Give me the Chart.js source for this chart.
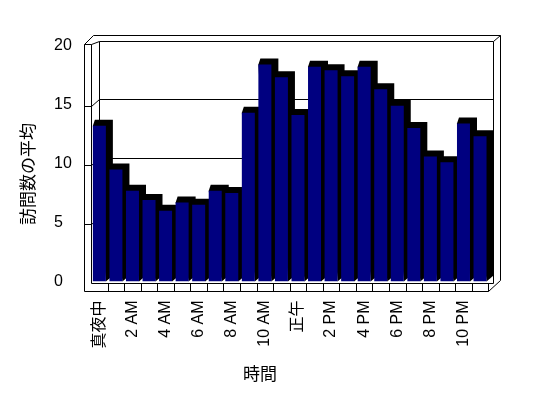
<!DOCTYPE html>
<html>
<head>
<meta charset="utf-8">
<script src="https://cdn.jsdelivr.net/npm/chart.js@4/dist/chart.umd.min.js"></script>
<style>
  body { margin: 0; background: #fff; }
</style>
</head>
<body>
<canvas id="grafica" width="548" height="398"></canvas>
<script>
const hourLabels = [
  "真夜中", "1 AM", "2 AM", "3 AM", "4 AM", "5 AM", "6 AM", "7 AM", "8 AM", "9 AM", "10 AM", "11 AM",
  "正午", "1 PM", "2 PM", "3 PM", "4 PM", "5 PM", "6 PM", "7 PM", "8 PM", "9 PM", "10 PM", "11 PM"
];
const visitAverages = [
  13.2, 9.5, 7.7, 6.9, 6.0, 6.7, 6.5, 7.7, 7.5, 14.3, 18.4, 17.3,
  14.1, 18.2, 17.9, 17.4, 18.2, 16.3, 14.9, 13.0, 10.6, 10.1, 13.4, 12.3
];
const yMin = 0;
const yMax = 20;
const yStep = 5;
const yTitle = "訪問数の平均";
const xTitle = "時間";

const FONT = "'Liberation Sans', 'Noto Sans CJK JP', sans-serif";

// walls, floor, gridlines and the dark tops/sides of the columns
const marco3d = {
  id: "marco3d",
  beforeDatasetsDraw(chart) {
    const { ctx, chartArea: a, scales: { x, y } } = chart;
    const L = a.left, R = a.right, B = a.bottom;
    const top = y.getPixelForValue(yMax);
    const wl = L - 7;
    const fb = B + 9.5;
    const ft = B + 1;
    const bx0 = L + 7.5;
    const bx1 = R + 5;
    const ox = R + 12;
    const p = v => Math.round(v) + 0.5;

    ctx.save();
    ctx.strokeStyle = "#000";
    ctx.lineWidth = 1;
    const line = pts => {
      ctx.beginPath();
      pts.forEach(([px, py], i) => i ? ctx.lineTo(p(px), p(py)) : ctx.moveTo(p(px), p(py)));
      ctx.stroke();
    };

    for (let v = yMin + yStep; v < yMax; v += yStep) {
      const yf = y.getPixelForValue(v) + 1;
      const yb = y.getPixelForValue(v) - 5.5;
      line([[bx0, yb], [bx1, yb]]);
      line([[wl, yf], [L, yf], [bx0, yb]]);
    }

    line([[wl, top - 2], [wl, fb], [R, fb]]);
    line([[wl, top - 2], [L, top - 2], [L, ft], [bx1, ft]]);
    line([[wl, top - 2], [wl + 9, top - 11], [ox, top - 11], [ox, B - 2], [R, fb]]);
    line([[L, top - 2], [bx0, top - 5], [bx1, top - 5], [ox, top - 11]]);
    line([[bx1, top - 5], [bx1, ft]]);
    line([[bx0, top - 5], [bx0, y.getPixelForValue(0) - 5.5]]);

    const cw = (R - L) / hourLabels.length;
    hourLabels.forEach((_, i) => {
      const cx = x.getPixelForValue(i) + cw / 2;
      line([[cx, ft], [cx, fb]]);
    });

    ctx.fillStyle = "#000";
    chart.getDatasetMeta(0).data.forEach(bar => {
      const { x: cx, y: yt, base, width } = bar.getProps(["x", "y", "base", "width"], true);
      const x0 = cx - width / 2, x1 = cx + width / 2;
      ctx.beginPath();
      ctx.moveTo(x0, yt);
      ctx.lineTo(x0 + 2, yt - 6);
      ctx.lineTo(x1 + 7, yt - 6);
      ctx.lineTo(x1 + 7, base - 6);
      ctx.lineTo(x1, base);
      ctx.closePath();
      ctx.fill();
    });
    ctx.restore();
  },
  afterDraw(chart) {
    const { ctx } = chart;
    ctx.save();
    ctx.fillStyle = "#000";
    ctx.font = "17px " + FONT;
    ctx.textAlign = "center";
    ctx.textBaseline = "middle";
    ctx.fillText(xTitle, 260, 375);
    ctx.translate(29, 174);
    ctx.rotate(-Math.PI / 2);
    ctx.fillText(yTitle, 0, 0);
    ctx.restore();
  }
};

new Chart(document.getElementById("grafica"), {
  type: "bar",
  data: {
    labels: hourLabels,
    datasets: [{
      label: yTitle,
      data: visitAverages,
      backgroundColor: "#000080",
      borderWidth: 0,
      categoryPercentage: 1,
      barPercentage: 0.785
    }]
  },
  options: {
    responsive: false,
    animation: false,
    layout: { padding: { left: 54, top: 45.5, right: 59.7, bottom: 0 } },
    plugins: { legend: { display: false }, tooltip: { enabled: false } },
    scales: {
      x: {
        grid: { display: false, drawTicks: false },
        border: { display: false },
        ticks: {
          autoSkip: false,
          minRotation: 90,
          maxRotation: 90,
          padding: 19,
          color: "#000",
          font: { family: FONT, size: 16 },
          callback: (val, i) => i % 2 === 0 ? hourLabels[i] : ""
        },
        afterFit: scale => { scale.height = 116.5; }
      },
      y: {
        min: yMin,
        max: yMax,
        grid: { display: false, drawTicks: false },
        border: { display: false },
        ticks: {
          stepSize: yStep,
          crossAlign: "far",
          color: "#000",
          font: { family: FONT, size: 16 }
        },
        afterFit: scale => { scale.width = 37.1; }
      }
    }
  },
  plugins: [marco3d]
});
</script>
</body>
</html>
